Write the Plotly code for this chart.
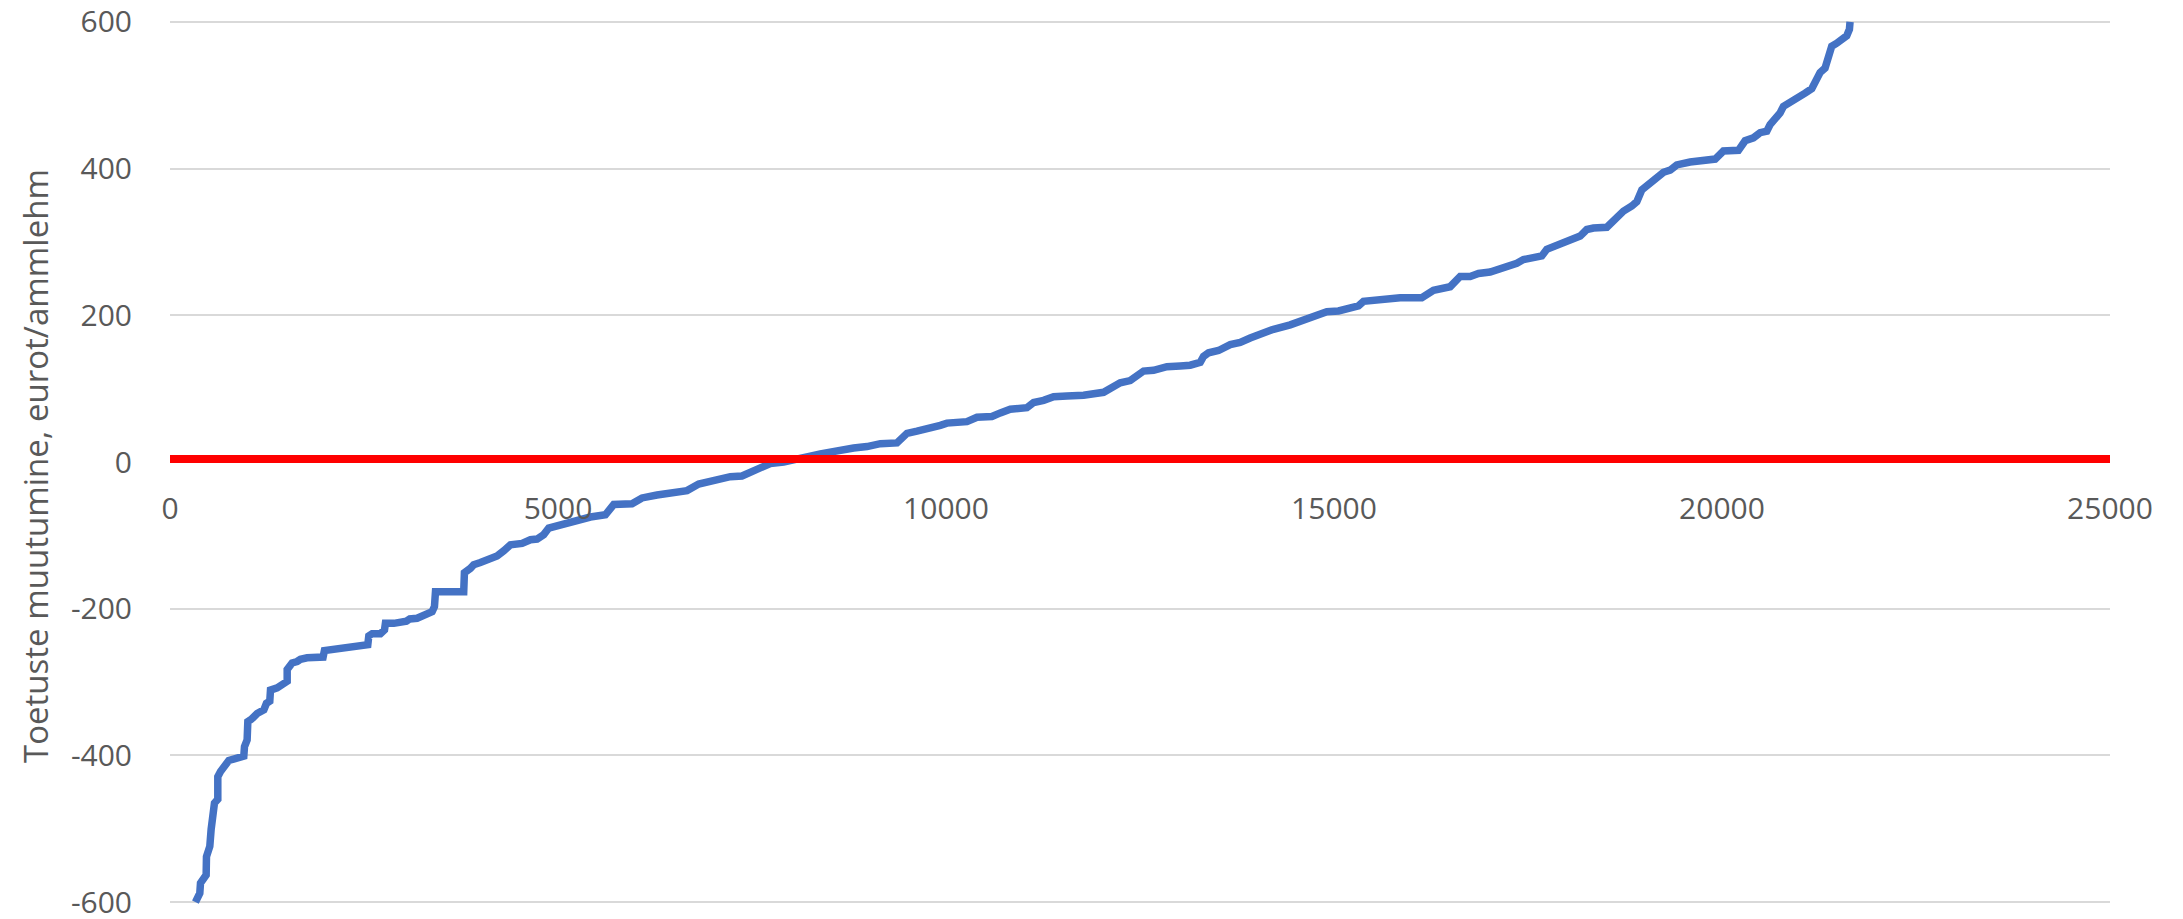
import plotly.graph_objects as go

# Blue series: sorted change in subsidies
x_vals = [328, 384, 393, 436, 466, 470, 487, 513, 530, 565, 573, 616, 616, 651, 715, 758, 951, 960, 994, 1003,
          1046, 1123, 1209, 1243, 1286, 1295, 1381, 1510, 1510, 1574, 1638, 1681, 1767, 1973, 1990, 2068, 2304,
          2454, 2549, 2562, 2605, 2712, 2764, 2776, 2884, 3047, 3090, 3184, 3313, 3378, 3408, 3421, 3785, 3794,
          3871, 3914, 4000, 4086, 4215, 4301, 4387, 4537, 4645, 4730, 4816, 4881, 4988, 5117, 5246, 5417, 5611,
          5654, 5718, 5954, 6083, 6276, 6577, 6663, 6813, 7006, 7049, 7221, 7371, 7522, 7629, 7736, 7908, 8080,
          8252, 8381, 8638, 8810, 8982, 9154, 9368, 9411, 9497, 9626, 9841, 9927, 10012, 10270, 10399, 10592,
          10700, 10828, 11043, 11129, 11258, 11387, 11558, 11773, 12031, 12117, 12245, 12374, 12460, 12546, 12675,
          12847, 13018, 13147, 13276, 13319, 13384, 13512, 13663, 13791, 13920, 14049, 14221, 14436, 14565, 14779,
          14908, 15058, 15209, 15316, 15380, 15552, 15853, 16132, 16282, 16497, 16561, 16626, 16755, 16862, 17012,
          17141, 17227, 17356, 17441, 17678, 17742, 17849, 17957, 18043, 18172, 18258, 18344, 18516, 18601, 18730,
          18838, 18902, 18967, 19031, 19160, 19246, 19332, 19417, 19589, 19697, 19912, 20018, 20212, 20298, 20405,
          20491, 20577, 20620, 20684, 20749, 20792, 20920, 21006, 21071, 21157, 21221, 21264, 21328, 21371, 21414,
          21479, 21607, 21642, 21650]
y_vals = [-600, -588, -574, -565, -563, -538, -529, -524, -501, -479, -465, -460, -429, -422, -410, -407, -401, -388,
          -379, -354, -351, -343, -338, -329, -326, -311, -308, -299, -283, -274, -272, -269, -267, -266, -257, -256,
          -254, -251, -249, -237, -234, -234, -229, -220, -220, -217, -214, -213, -208, -204, -197, -177, -177, -151,
          -145, -140, -137, -133, -128, -121, -113, -111, -106, -105, -99, -90, -87, -82, -78, -75, -72, -65, -58,
          -57, -49, -45, -42, -39, -30, -25, -23, -20, -19, -11, -5, -2, 0, 5, 8, 11, 17, 19, 21, 25, 26, 31, 39, 42,
          46, 50, 53, 55, 61, 62, 67, 72, 74, 81, 84, 89, 90, 91, 95, 101, 108, 111, 119, 124, 125, 130, 131, 132,
          136, 144, 149, 152, 160, 163, 169, 175, 181, 187, 192, 198, 205, 206, 210, 213, 219, 221, 224, 224, 234,
          239, 247, 253, 253, 257, 259, 263, 267, 271, 276, 281, 290, 294, 300, 301, 308, 317, 319, 320, 330, 342,
          349, 355, 371, 377, 390, 395, 398, 405, 409, 411, 413, 424, 425, 438, 442, 449, 451, 460, 467, 476, 485,
          492, 498, 503, 509, 521, 531, 537, 553, 567, 571, 581, 590, 600]

# Red reference line
red_x = [0, 25000]
red_y = [4, 4]

# Axis ticks
x_ticks = [0, 5000, 10000, 15000, 20000, 25000]
x_ticktext = ["0", "5000", "10000", "15000", "20000", "25000"]
y_ticks = [-600, -400, -200, 0, 200, 400, 600]
y_ticktext = ["-600", "-400", "-200", "0", "200", "400", "600"]
y_title = "Toetuste muutumine, eurot/ammlehm"

FONT = "Open Sans"
GREY = "#595959"
FS = 30

fig = go.Figure()
fig.add_trace(go.Scatter(x=x_vals, y=y_vals, mode="lines",
                         line=dict(color="#4472C4", width=7.5), showlegend=False, hoverinfo="skip"))
fig.add_trace(go.Scatter(x=red_x, y=red_y, mode="lines",
                         line=dict(color="#FF0000", width=8), showlegend=False, hoverinfo="skip"))

fig.update_layout(
    width=2183, height=919,
    margin=dict(l=170, r=73, t=19, b=14, autoexpand=False),
    paper_bgcolor="white", plot_bgcolor="white",
    font=dict(family=FONT, color=GREY, size=FS),
    xaxis=dict(range=[0, 25000], tickvals=x_ticks, ticktext=x_ticktext,
               showgrid=False, zeroline=False, showline=False, ticks="",
               anchor="free", position=0.5, ticklabelstandoff=26, automargin=False,
               ticklabeloverflow="allow",
               tickfont=dict(family=FONT, color=GREY, size=FS)),
    yaxis=dict(range=[-604, 604], tickvals=y_ticks, ticktext=y_ticktext,
               showgrid=True, gridcolor="#D9D9D9", gridwidth=1.5, zeroline=False,
               showline=False, ticks="", ticklabelstandoff=37, automargin=False,
               ticklabeloverflow="allow",
               tickfont=dict(family=FONT, color=GREY, size=FS)),
    annotations=[dict(text=y_title, xref="paper", yref="paper", x=0, y=0.5,
                      xanchor="center", yanchor="middle", xshift=-135, yshift=-4,
                      textangle=-90, showarrow=False,
                      font=dict(family=FONT, color=GREY, size=33))],
)

fig.write_html("out.html", config={"displayModeBar": False},
               post_script="document.body.style.margin='0';")
